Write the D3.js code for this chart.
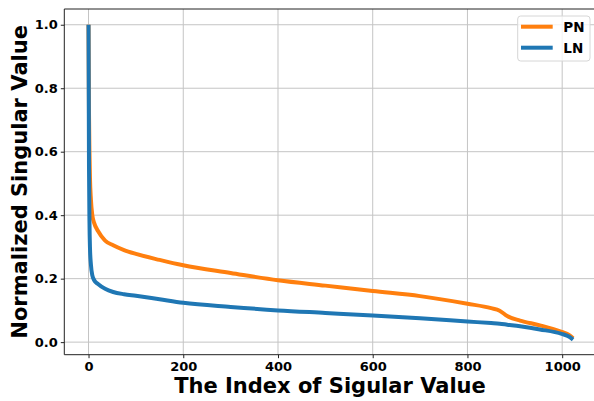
<!DOCTYPE html>
<html>
<head>
<meta charset="utf-8">
<script src="https://cdn.jsdelivr.net/npm/d3@7"></script>
<style>
  body { margin: 0; background: #fff; }
  text { font-family: "DejaVu Sans", sans-serif; font-weight: bold; }
</style>
</head>
<body>
<svg id="chart" width="594" height="401"></svg>
<script>
// sampled singular value indices
var indices = [0, 1, 2, 3, 5, 8, 12, 20, 35, 52, 75, 100, 150, 200, 300, 400, 500, 600, 700, 800, 850, 868, 884, 911, 953, 999, 1015, 1023];
var pnValues = [1.0, 0.72, 0.6, 0.52, 0.45, 0.40, 0.375, 0.35, 0.32, 0.305, 0.29, 0.278, 0.259, 0.242, 0.218, 0.195, 0.178, 0.161, 0.145, 0.121, 0.107, 0.099, 0.082, 0.068, 0.053, 0.032, 0.022, 0.012];
var lnValues = [1.0, 0.55, 0.38, 0.3, 0.245, 0.21, 0.195, 0.183, 0.168, 0.158, 0.151, 0.146, 0.135, 0.124, 0.111, 0.100, 0.092, 0.084, 0.075, 0.065, 0.060, 0.058, 0.055, 0.050, 0.040, 0.026, 0.017, 0.008];
var xTicks = [0, 200, 400, 600, 800, 1000];
var yTicks = [0.0, 0.2, 0.4, 0.6, 0.8, 1.0];
var seriesNames = ["PN", "LN"];
var seriesColors = ["#ff7f0e", "#1f77b4"];

var svg = d3.select('#chart');
var plotLeft = 64.3, plotRight = 597.3, plotTop = 9, plotBottom = 354.7;

var x = d3.scaleLinear().domain([-51.15, 1074.15]).range([plotLeft, plotRight]);
var y = d3.scaleLinear().domain([-0.0396, 1.0496]).range([plotBottom, plotTop]);

// grid
svg.append('g').selectAll('line')
    .data(xTicks).enter().append('line')
    .attr('x1', d => x(d)).attr('x2', d => x(d))
    .attr('y1', plotTop).attr('y2', plotBottom)
    .attr('stroke', '#c4c4c4').attr('stroke-width', 1);
svg.append('g').selectAll('line')
    .data(yTicks).enter().append('line')
    .attr('x1', plotLeft).attr('x2', plotRight)
    .attr('y1', d => y(d)).attr('y2', d => y(d))
    .attr('stroke', '#c4c4c4').attr('stroke-width', 1);

// series
var line = d3.line()
    .x(d => x(d[0]))
    .y(d => y(d[1]))
    .curve(d3.curveMonotoneX);

[pnValues, lnValues].forEach(function (vals, k) {
    svg.append('path')
        .datum(indices.map((idx, j) => [idx, vals[j]]))
        .attr('d', line)
        .attr('fill', 'none')
        .attr('stroke', seriesColors[k])
        .attr('stroke-width', 4)
        .attr('stroke-linejoin', 'round');
});

// axes
var xAxis = svg.append('g')
    .attr('transform', 'translate(0,' + plotBottom + ')')
    .call(d3.axisBottom(x).tickValues(xTicks).tickSize(3.5).tickPadding(3.5).tickFormat(d3.format('d')));
var yAxis = svg.append('g')
    .attr('transform', 'translate(' + plotLeft + ',0)')
    .call(d3.axisLeft(y).tickValues(yTicks).tickSize(3.5).tickPadding(3).tickFormat(d3.format('.1f')));

[xAxis, yAxis].forEach(function (a) {
    a.select('.domain').remove();
    a.selectAll('.tick line').attr('stroke', '#222').attr('stroke-width', 1);
    a.selectAll('.tick text')
        .attr('fill', '#000')
        .style('font-size', '13px')
        .style('font-family', '"DejaVu Sans", sans-serif')
        .style('font-weight', 'bold');
});

// spines
svg.append('line').attr('x1', plotLeft).attr('x2', plotLeft).attr('y1', plotTop).attr('y2', plotBottom)
    .attr('stroke', '#222').attr('stroke-width', 1);
svg.append('line').attr('x1', plotLeft).attr('x2', plotRight).attr('y1', plotBottom).attr('y2', plotBottom)
    .attr('stroke', '#222').attr('stroke-width', 1);
svg.append('line').attr('x1', plotLeft).attr('x2', plotRight).attr('y1', plotTop).attr('y2', plotTop)
    .attr('stroke', '#222').attr('stroke-width', 1);

// axis labels
svg.append('text')
    .attr('x', 330)
    .attr('y', 393)
    .attr('text-anchor', 'middle')
    .style('font-size', '21px')
    .text('The Index of Sigular Value');
svg.append('text')
    .attr('transform', 'translate(27,' + (plotTop + plotBottom) / 2 + ') rotate(-90)')
    .attr('text-anchor', 'middle')
    .style('font-size', '21px')
    .text('Normalized Singular Value');

// legend
var legend = svg.append('g');
legend.append('rect')
    .attr('x', 517.7).attr('y', 16).attr('width', 72.3).attr('height', 45)
    .attr('rx', 3).attr('fill', 'rgba(255,255,255,0.8)')
    .attr('stroke', '#d6d6d6').attr('stroke-width', 1);
seriesNames.forEach(function (name, k) {
    var ly = 26.7 + k * 21;
    legend.append('line')
        .attr('x1', 521).attr('x2', 552.7).attr('y1', ly).attr('y2', ly)
        .attr('stroke', seriesColors[k]).attr('stroke-width', 4);
    legend.append('text')
        .attr('x', 563.3).attr('y', ly + 5.2)
        .style('font-size', '13.5px')
        .text(name);
});
</script>
</body>
</html>
